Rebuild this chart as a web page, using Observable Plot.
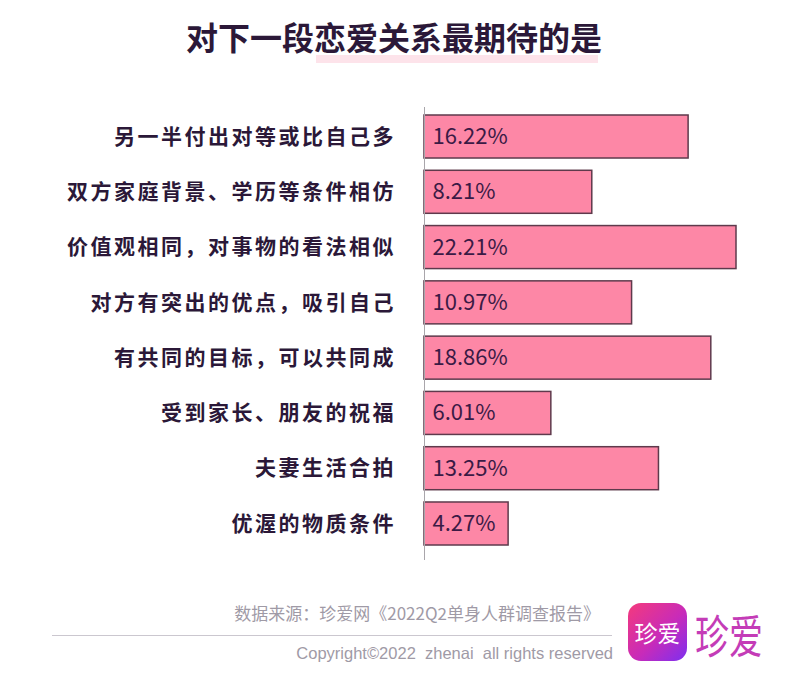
<!DOCTYPE html>
<html>
<head>
<meta charset="utf-8">
<script src="https://cdn.jsdelivr.net/npm/d3@7"></script>
<script src="https://cdn.jsdelivr.net/npm/@observablehq/plot@0.6"></script>
<style>
  html, body { margin: 0; padding: 0; background: #fff; }
  #page { position: relative; width: 800px; height: 677px; overflow: hidden; background: #fff;
          font-family: "Noto Sans CJK SC", "Noto Sans", sans-serif; }
  #chart { position: absolute; left: 0; top: 0; }
  #highlight { position: absolute; left: 316px; top: 55px; width: 282px; height: 8px; background: #fde3ea; }
  #title { position: absolute; left: 186px; top: 20px; font-size: 32px; line-height: 32px; font-weight: 700;
           color: #2b1838; white-space: nowrap; }
  #source { position: absolute; right: 200px; top: 604px; font-size: 17px; line-height: 17px; color: #9f9aa6; white-space: nowrap; }
  #rule { position: absolute; left: 52px; top: 635px; width: 560px; height: 1px; background: #cbc7cf; }
  #copy { position: absolute; right: 187px; top: 645px; font-family: "Liberation Sans", Arial, sans-serif;
          font-size: 16.5px; line-height: 16.5px; color: #9f9aa6; white-space: pre; }
  #logo { position: absolute; left: 628px; top: 603px; width: 59px; height: 58px; border-radius: 13px;
          background: linear-gradient(135deg, #f43a7c 0%, #c82bb9 55%, #7d2ff0 100%);
          color: #fff; font-size: 23px; line-height: 58px; text-align: center; font-weight: 400; }
  #brand { position: absolute; left: 695px; top: 611px; font-size: 34px; line-height: 34px; color: #c43cb7;
           transform: scaleY(1.35); transform-origin: left top; white-space: nowrap; }
  svg g[aria-label="y-axis tick label"] text { letter-spacing: 2.5px; }
</style>
</head>
<body>
<div id="page">
  <div id="chart"></div>
  <div id="highlight"></div>
  <div id="title">对下一段恋爱关系最期待的是</div>
  <div id="source">数据来源：珍爱网《2022Q2单身人群调查报告》</div>
  <div id="rule"></div>
  <div id="copy">Copyright©2022  zhenai  all rights reserved</div>
  <div id="logo">珍爱</div>
  <div id="brand">珍爱</div>
</div>
<script>
const categories = [
  "另一半付出对等或比自己多",
  "双方家庭背景、学历等条件相仿",
  "价值观相同，对事物的看法相似",
  "对方有突出的优点，吸引自己",
  "有共同的目标，可以共同成",
  "受到家长、朋友的祝福",
  "夫妻生活合拍",
  "优渥的物质条件"
];
const values = [16.22, 8.21, 22.21, 10.97, 18.86, 6.01, 13.25, 4.27];

// the original design draws bars on a compressed (power) value scale
const xBase = 2.06;
const xExponent = 0.15;

const data = categories.map((c, i) => ({category: c, value: values[i]}));

const chart = Plot.plot({
  width: 800,
  height: 677,
  marginLeft: 424,
  marginRight: 64,
  marginTop: 115,
  marginBottom: 132,
  style: {fontFamily: "'Noto Sans CJK SC', sans-serif", background: "transparent", overflow: "visible"},
  x: {type: "pow", exponent: xExponent, domain: [xBase, d3.max(values)], axis: null},
  y: {domain: categories, paddingInner: 0.222, paddingOuter: 0, round: false, axis: null, label: null},
  marks: [
    Plot.barX(data, {
      y: "category",
      x1: () => xBase,
      x2: "value",
      fill: "#fd87a6",
      stroke: "#5e3a4c",
      strokeWidth: 1.5
    }),
    Plot.ruleX([xBase], {stroke: "#a9a6ab", strokeWidth: 1, insetTop: -8, insetBottom: -15}),
    Plot.text(data, {
      y: "category",
      x: () => xBase,
      dx: 8,
      text: d => d.value.toFixed(2) + "%",
      textAnchor: "start",
      fontSize: 22,
      fill: "#3b1a45"
    }),
    Plot.axisY({
      tickSize: 0,
      tickPadding: 28.5,
      fontSize: 21,
      fontWeight: "bold",
      fill: "#2b1838",
      label: null
    })
  ]
});
document.getElementById("chart").appendChild(chart);
</script>
</body>
</html>
